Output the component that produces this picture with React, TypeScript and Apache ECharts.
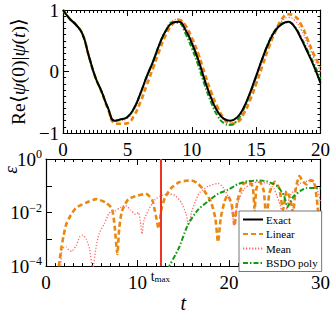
import React, { useEffect, useRef } from "react";
import * as echarts from "echarts";

// ---------- top panel: Re<psi(0)|psi(t)> ----------
const tTop = [0, 0.5, 1, 1.5, 2, 2.5, 3, 3.5, 4, 4.5, 5, 5.5, 6, 6.5, 7, 7.5, 8, 8.5, 9, 9.5, 10, 10.5, 11, 11.5, 12, 12.5, 13, 13.5, 14, 14.5, 15, 15.5, 16, 16.5, 17, 17.5, 18, 18.5, 19, 19.5, 20];
const exactTop = [1.0, 0.86, 0.76, 0.61, 0.25, -0.09, -0.33, -0.6, -0.8, -0.775, -0.74, -0.6, -0.36, -0.08, 0.17, 0.45, 0.67, 0.79, 0.81, 0.68, 0.46, 0.19, -0.14, -0.43, -0.65, -0.77, -0.8, -0.75, -0.6, -0.36, -0.07, 0.22, 0.48, 0.67, 0.77, 0.81, 0.72, 0.53, 0.31, 0.08, -0.19];
const linearTop = [1.0, 0.86, 0.76, 0.61, 0.25, -0.09, -0.34, -0.62, -0.84, -0.85, -0.84, -0.72, -0.5, -0.22, 0.06, 0.35, 0.6, 0.77, 0.84, 0.75, 0.55, 0.29, -0.03, -0.33, -0.58, -0.76, -0.85, -0.83, -0.7, -0.48, -0.2, 0.1, 0.4, 0.65, 0.85, 0.93, 0.9, 0.76, 0.52, 0.27, 0.08];
const meanTop = [1.0, 0.86, 0.76, 0.61, 0.25, -0.09, -0.33, -0.61, -0.81, -0.8, -0.76, -0.63, -0.4, -0.12, 0.14, 0.43, 0.67, 0.82, 0.85, 0.72, 0.5, 0.23, -0.1, -0.4, -0.64, -0.79, -0.84, -0.8, -0.65, -0.41, -0.12, 0.18, 0.46, 0.68, 0.82, 0.88, 0.83, 0.68, 0.45, 0.22, 0.0];
const bsdoTop = [1.0, 0.86, 0.76, 0.61, 0.25, -0.09, -0.33, -0.6, -0.8, -0.78, -0.74, -0.6, -0.36, -0.08, 0.17, 0.45, 0.67, 0.8, 0.79, 0.62, 0.38, 0.1, -0.22, -0.5, -0.72, -0.84, -0.87, -0.8, -0.62, -0.37, -0.08, 0.22, 0.49, 0.68, 0.78, 0.8, 0.73, 0.55, 0.34, 0.12, -0.12];

// ---------- bottom panel: error eps (log10 values) ----------
const tLinear = [1.3, 1.6, 1.9, 2.2, 2.7, 3.3, 4.4, 5.5, 6.5, 7.2, 7.5, 7.8, 8.0, 8.3, 9.0, 10.0, 10.9, 11.6, 12.0, 12.3, 12.6, 13.0, 13.7, 14.6, 15.9, 16.6, 17.3, 18.0, 18.5, 18.8, 19.1, 19.5, 19.85, 20.3, 20.6, 20.9, 21.5, 22.2, 22.6, 22.8, 23.0, 23.4, 23.8, 24.1, 24.4, 25.0, 25.5, 25.9, 26.3, 26.7, 27.0, 27.3, 27.7, 28.1, 28.5, 28.9, 29.3, 29.6, 29.9, 30.0];
const linearLogErr = [-4.3, -3.5, -2.9, -2.45, -2.1, -1.82, -1.63, -1.5, -1.62, -1.85, -2.5, -3.55, -2.6, -1.95, -1.5, -1.37, -1.3, -1.52, -2.1, -2.6, -1.9, -1.45, -1.08, -0.86, -0.8, -0.92, -1.19, -1.58, -2.2, -3.1, -2.2, -1.6, -1.36, -1.7, -2.5, -1.6, -0.95, -0.86, -1.05, -1.9, -1.1, -0.86, -1.2, -2.35, -1.3, -0.85, -1.1, -1.9, -1.2, -1.5, -2.0, -1.1, -0.64, -0.85, -0.95, -0.8, -0.85, -1.5, -2.4, -2.3];

const tMean = [1.6, 1.75, 2.2, 2.5, 2.8, 3.3, 3.7, 4.0, 4.4, 4.75, 5.1, 5.5, 5.8, 6.4, 6.9, 7.45, 8.2, 8.7, 9.25, 9.8, 10.1, 10.3, 10.5, 10.7, 11.2, 11.9, 12.7, 13.4, 14.1, 14.8, 15.3, 15.6, 15.9, 16.3, 16.8, 17.7, 18.8, 19.5, 20.2, 20.6, 20.9, 21.7, 23.1, 24.2, 24.9, 25.6, 26.0, 26.4, 26.7, 27.8, 28.9, 29.6, 30.0];
const meanLogErr = [-4.2, -3.35, -3.28, -3.4, -3.45, -3.23, -2.9, -2.84, -3.0, -3.34, -4.1, -3.23, -2.79, -2.4, -2.02, -1.96, -1.8, -1.74, -1.9, -2.07, -2.0, -2.3, -2.8, -2.3, -1.9, -1.52, -1.36, -1.3, -1.36, -1.63, -2.05, -2.46, -2.0, -1.6, -1.25, -1.02, -0.91, -1.13, -1.69, -2.46, -1.7, -1.1, -0.86, -0.91, -1.1, -1.74, -2.35, -1.7, -1.36, -0.91, -0.8, -1.1, -1.6];

const tBsdo = [13.3, 14.5, 15.5, 16.6, 17.7, 18.8, 19.9, 20.9, 22.0, 23.4, 24.2, 25.3, 26.0, 26.4, 26.7, 27.05, 27.8, 28.5, 29.4, 30.0];
const bsdoLogErr = [-4.1, -3.34, -2.46, -1.9, -1.58, -1.3, -1.15, -0.95, -0.83, -0.8, -0.84, -1.02, -1.36, -1.8, -1.6, -1.4, -1.19, -1.08, -1.08, -1.1];

const tMax = 12.5;

const FONT = "Liberation Serif";
const C_EXACT = "#000000";
const C_LINEAR = "#e8880f";
const C_MEAN = "#ff6a6a";
const C_BSDO = "#119911";

const pairs = (xs: number[], ys: number[]) => xs.map((x, i) => [x, ys[i]]);
const logPairs = (xs: number[], ls: number[]) => xs.map((x, i) => [x, Math.pow(10, ls[i])]);
const minus = (v: number) => (v < 0 ? "\u2212" + Math.abs(v) : String(v));

export default function App() {
  const ref = useRef<HTMLDivElement>(null);
  useEffect(() => {
    if (!ref.current) return;
    const chart = echarts.init(ref.current, undefined, { renderer: "svg" });
    const tick = { show: true, inside: true, length: 6, lineStyle: { color: "#000", width: 1 } };
    const line = { show: true, onZero: false, lineStyle: { color: "#000", width: 1.2 } };
    const lbl = { fontFamily: FONT, fontSize: 19, color: "#000" };
    const xTop = (grid: number, show: boolean, pos: string, split: number) => ({
      type: "value", gridIndex: grid, position: pos, min: 0, max: grid === 0 ? 20 : 30, interval: grid === 0 ? 5 : 10,
      axisLine: line, axisTick: tick,
      minorTick: { show: true, splitNumber: split, length: 3, lineStyle: { color: "#000", width: 1 } },
      splitLine: { show: false }, minorSplitLine: { show: false },
      axisLabel: show ? { ...lbl, margin: 7, formatter: (v: number) => String(v) } : { show: false },
    });
    const logFmt = (v: number) => {
      const e = Math.round(Math.log10(v));
      if (e % 2 !== 0) return "";
      return `{b|10}{s|${e < 0 ? "\u2212" + -e : e}}`;
    };
    const yLog = (show: boolean, pos: string) => ({
      type: "log", logBase: 10, gridIndex: 1, position: pos, min: 1e-4, max: 1,
      axisLine: line, axisTick: tick,
      splitLine: { show: false },
      axisLabel: show
        ? {
            margin: 4, formatter: logFmt,
            rich: {
              b: { fontFamily: FONT, fontSize: 19, color: "#000", lineHeight: 22 },
              s: { fontFamily: FONT, fontSize: 12, color: "#000", verticalAlign: "top", lineHeight: 12 },
            },
          }
        : { show: false },
    });
    const yLin = (show: boolean, pos: string) => ({
      type: "value", gridIndex: 0, position: pos, min: -1, max: 1, interval: 1,
      axisLine: line, axisTick: tick,
      minorTick: { show: true, splitNumber: 10, length: 3, lineStyle: { color: "#000", width: 1 } },
      splitLine: { show: false },
      axisLabel: show ? { ...lbl, margin: 4, formatter: (v: number) => minus(v) } : { show: false },
      ...(show
        ? {
            name: "{r|Re\u27E8}{i|\u03C8}{r|(0)|}{i|\u03C8}{r|(}{i|t}{r|)\u27E9}",
            nameLocation: "middle", nameGap: 24, nameRotate: 90,
            nameTextStyle: {
              rich: {
                r: { fontFamily: FONT, fontSize: 19.5, color: "#000" },
                i: { fontFamily: FONT, fontSize: 19.5, color: "#000", fontStyle: "italic" },
              },
            },
          }
        : {}),
    });

    const option: any = {
      animation: false,
      backgroundColor: "#fff",
      grid: [
        { left: 46, top: 10, width: 278, height: 123 },
        { left: 46, top: 159, width: 278, height: 121 },
      ],
      xAxis: [
        xTop(0, true, "bottom", 15),
        xTop(0, false, "top", 15),
        {
          ...xTop(1, true, "bottom", 10),
          name: "t", nameLocation: "middle", nameGap: 22,
          nameTextStyle: { fontFamily: FONT, fontSize: 20, fontStyle: "italic", color: "#000" },
        },
        xTop(1, false, "top", 10),
      ],
      yAxis: [yLin(true, "left"), yLin(false, "right"), yLog(true, "left"), yLog(false, "right")],
      legend: {
        orient: "vertical", left: 239, top: 211, itemWidth: 20, itemHeight: 12, itemGap: 3.5,
        padding: [3, 4, 3, 3], backgroundColor: "#fff", borderColor: "#777", borderWidth: 1, borderRadius: 0,
        itemStyle: { opacity: 0 },
        textStyle: { fontFamily: FONT, fontSize: 11, color: "#000", padding: [0, 0, 0, -2] },
        data: ["Exact", "Linear", "Mean", "BSDO poly"],
      },
      graphic: [
        {
          type: "text", x: 10, y: 170, rotation: Math.PI / 2,
          style: { text: "\u03B5", fontFamily: FONT, fontSize: 19, fontStyle: "italic", fill: "#000", align: "center", verticalAlign: "middle" },
        },
      ],
      series: [
        { name: "Exact", type: "line", xAxisIndex: 0, yAxisIndex: 0, data: pairs(tTop, exactTop), smooth: true, symbol: "none", z: 5, lineStyle: { color: C_EXACT, width: 2 }, itemStyle: { color: C_EXACT } },
        { name: "Mean", type: "line", xAxisIndex: 0, yAxisIndex: 0, data: pairs(tTop, meanTop), smooth: true, symbol: "none", z: 3, lineStyle: { color: C_MEAN, width: 1.3, type: [1.3, 1.7] }, itemStyle: { color: C_MEAN } },
        { name: "Linear", type: "line", xAxisIndex: 0, yAxisIndex: 0, data: pairs(tTop, linearTop), smooth: true, symbol: "none", z: 2, lineStyle: { color: C_LINEAR, width: 2.6, type: [5, 3] }, itemStyle: { color: C_LINEAR } },
        { name: "BSDO poly", type: "line", xAxisIndex: 0, yAxisIndex: 0, data: pairs(tTop, bsdoTop), smooth: true, symbol: "none", z: 4, lineStyle: { color: C_BSDO, width: 2, type: [5, 2, 1.5, 2] }, itemStyle: { color: C_BSDO } },

        { name: "Exact", type: "line", xAxisIndex: 2, yAxisIndex: 2, data: [], symbol: "none", lineStyle: { color: C_EXACT, width: 2 }, itemStyle: { color: C_EXACT } },
        {
          name: "Linear", type: "line", xAxisIndex: 2, yAxisIndex: 2, data: logPairs(tLinear, linearLogErr), smooth: 0.2, symbol: "none", clip: true,
          lineStyle: { color: C_LINEAR, width: 2.6, type: [5, 3] }, itemStyle: { color: C_LINEAR },
          markLine: {
            silent: true, symbol: "none", animation: false,
            lineStyle: { color: "#ee3322", width: 2, type: "solid" },
            label: {
              show: true, position: "start", distance: 3, formatter: "{t|t}{s|max}",
              rich: {
                t: { fontFamily: FONT, fontSize: 14, color: "#000" },
                s: { fontFamily: FONT, fontSize: 9, color: "#000", verticalAlign: "bottom", lineHeight: 8, padding: [6, 0, 0, 0] },
              },
            },
            data: [{ xAxis: tMax }],
          },
        },
        { name: "Mean", type: "line", xAxisIndex: 2, yAxisIndex: 2, data: logPairs(tMean, meanLogErr), smooth: 0.2, symbol: "none", clip: true, lineStyle: { color: C_MEAN, width: 1.3, type: [1.3, 1.7] }, itemStyle: { color: C_MEAN } },
        { name: "BSDO poly", type: "line", xAxisIndex: 2, yAxisIndex: 2, data: logPairs(tBsdo, bsdoLogErr), smooth: 0.2, symbol: "none", clip: true, lineStyle: { color: C_BSDO, width: 2, type: [5, 2, 1.5, 2] }, itemStyle: { color: C_BSDO } },
      ],
    };
    chart.setOption(option);
    return () => chart.dispose();
  }, []);
  return <div ref={ref} style={{ position: "fixed", left: 0, top: 0, width: 333, height: 314 }} />;
}
